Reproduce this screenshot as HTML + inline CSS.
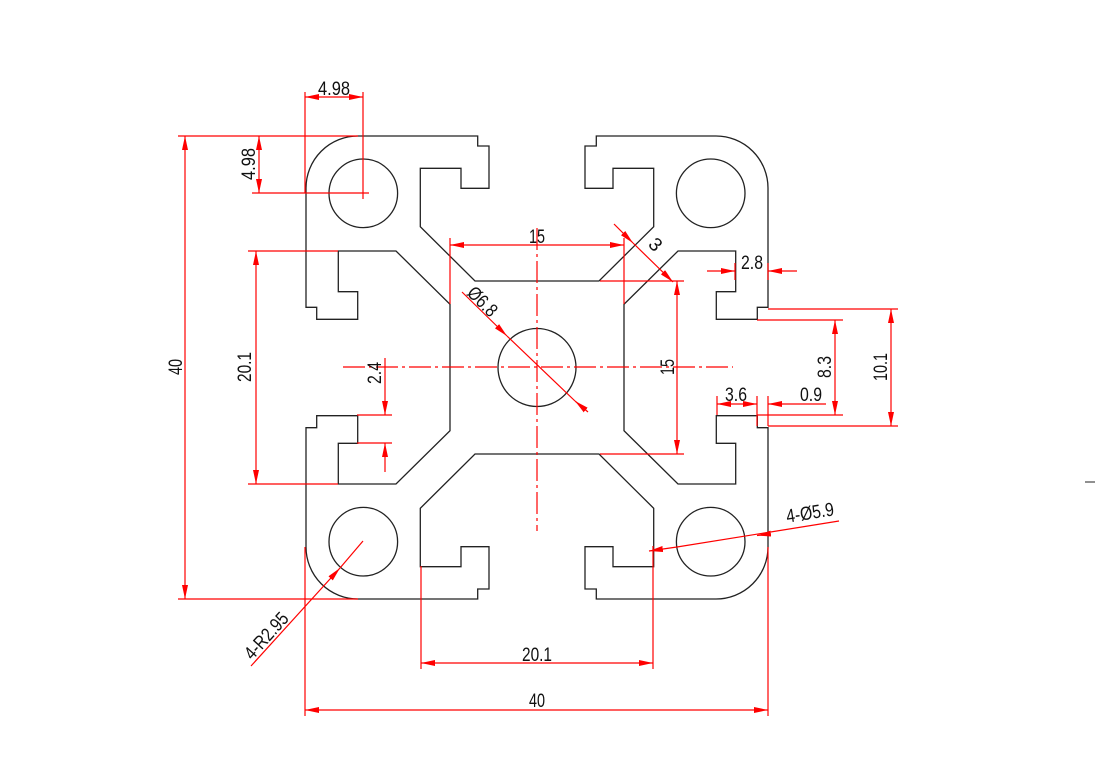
<!DOCTYPE html>
<html><head><meta charset="utf-8"><style>
html,body{margin:0;padding:0;background:#fff;}
svg{display:block;}
text{font-family:"Liberation Sans",sans-serif;font-size:19px;fill:#111;}
</style></head><body>
<svg width="1095" height="779" viewBox="0 0 1095 779" xmlns="http://www.w3.org/2000/svg">
<defs>
<marker id="a" viewBox="0 0 14 6" refX="14" refY="3" markerWidth="14" markerHeight="6" markerUnits="userSpaceOnUse" orient="auto-start-reverse">
<path d="M0,0 L14,3 L0,6 z" fill="#f00"/></marker>
<path id="q" d="M0,-86.5 L-62,-86.5 L-116.7,-140.8 L-116.7,-199.2 L-76,-199.2 L-76,-179.2 L-48,-179.2 L-48,-221.5 L-59.3,-221.5 L-59.3,-231.5 L-179,-231.5 A52,52 0 0 0 -231,-179.5 L-231,-60.2 L-220.3,-60.2 L-220.3,-48.2 L-179.3,-48.2 L-179.3,-75.8 L-198.7,-75.8 L-198.7,-116.5 L-141,-116.5 L-87,-63.2 L-87,0" fill="none" stroke="#222" stroke-width="1.3"/>
<circle id="h" cx="-173.7" cy="-174.2" r="34.3" fill="none" stroke="#222" stroke-width="1.3"/>
</defs>
<g transform="translate(537,367.5)">
<use href="#q"/><use href="#q" transform="scale(-1,1)"/><use href="#q" transform="scale(1,-1)"/><use href="#q" transform="scale(-1,-1)"/>
<use href="#h"/><use href="#h" transform="scale(-1,1)"/><use href="#h" transform="scale(1,-1)"/><use href="#h" transform="scale(-1,-1)"/>
<circle cx="0" cy="0" r="39" fill="none" stroke="#222" stroke-width="1.3"/>
</g>
<g stroke="#f00" stroke-width="1.2" fill="none">
<line x1="343" y1="367" x2="733" y2="367" stroke-dasharray="22,4,3,4"/>
<line x1="537" y1="228" x2="537" y2="531" stroke-dasharray="22,4,3,4"/>
<line x1="305" y1="92" x2="305" y2="193"/>
<line x1="305" y1="547" x2="305" y2="716"/>
<line x1="363" y1="92" x2="363" y2="199"/>
<line x1="305" y1="97" x2="363" y2="97" marker-start="url(#a)" marker-end="url(#a)"/>
<line x1="178" y1="136" x2="358" y2="136"/>
<line x1="252" y1="193" x2="369" y2="193"/>
<line x1="259" y1="136" x2="259" y2="193" marker-start="url(#a)" marker-end="url(#a)"/>
<line x1="178" y1="599" x2="358" y2="599"/>
<line x1="185" y1="136" x2="185" y2="599" marker-start="url(#a)" marker-end="url(#a)"/>
<line x1="248" y1="251" x2="338" y2="251"/>
<line x1="248" y1="484" x2="338" y2="484"/>
<line x1="256" y1="251" x2="256" y2="484" marker-start="url(#a)" marker-end="url(#a)"/>
<line x1="357" y1="415" x2="392" y2="415"/>
<line x1="357" y1="443" x2="392" y2="443"/>
<line x1="385" y1="358" x2="385" y2="415" marker-end="url(#a)"/>
<line x1="385" y1="472" x2="385" y2="443" marker-end="url(#a)"/>
<line x1="450" y1="238" x2="450" y2="304"/>
<line x1="624" y1="238" x2="624" y2="304"/>
<line x1="450" y1="245" x2="624" y2="245" marker-start="url(#a)" marker-end="url(#a)"/>
<line x1="614" y1="224" x2="633" y2="243" marker-end="url(#a)"/>
<line x1="633" y1="243" x2="673" y2="282" marker-end="url(#a)"/>
<line x1="600" y1="281" x2="684" y2="281"/>
<line x1="600" y1="454" x2="684" y2="454"/>
<line x1="677" y1="281" x2="677" y2="454" marker-start="url(#a)" marker-end="url(#a)"/>
<line x1="707" y1="271" x2="735" y2="271" marker-end="url(#a)"/>
<line x1="797" y1="271" x2="768" y2="271" marker-end="url(#a)"/>
<line x1="735" y1="263" x2="735" y2="280"/>
<line x1="768" y1="263" x2="768" y2="280"/>
<line x1="768" y1="309" x2="898" y2="309"/>
<line x1="768" y1="426" x2="898" y2="426"/>
<line x1="891" y1="309" x2="891" y2="426" marker-start="url(#a)" marker-end="url(#a)"/>
<line x1="757" y1="320" x2="843" y2="320"/>
<line x1="757" y1="415" x2="843" y2="415"/>
<line x1="835" y1="320" x2="835" y2="415" marker-start="url(#a)" marker-end="url(#a)"/>
<line x1="717" y1="396" x2="717" y2="415"/>
<line x1="757" y1="396" x2="757" y2="426"/>
<line x1="768" y1="396" x2="768" y2="426"/>
<line x1="717" y1="404" x2="757" y2="404" marker-start="url(#a)" marker-end="url(#a)"/>
<line x1="826" y1="404" x2="768" y2="404" marker-end="url(#a)"/>
<line x1="421" y1="566" x2="421" y2="669"/>
<line x1="653" y1="546" x2="653" y2="669"/>
<line x1="421" y1="663" x2="653" y2="663" marker-start="url(#a)" marker-end="url(#a)"/>
<line x1="768" y1="547" x2="768" y2="716"/>
<line x1="305" y1="710" x2="768" y2="710" marker-start="url(#a)" marker-end="url(#a)"/>
<line x1="251" y1="666" x2="340" y2="568" marker-end="url(#a)"/>
<line x1="340" y1="568" x2="363" y2="541"/>
<line x1="649" y1="551" x2="677" y2="547" marker-start="url(#a)"/>
<line x1="677" y1="547" x2="839" y2="521"/>
<line x1="768" y1="534" x2="757" y2="535.5" marker-end="url(#a)"/>
<line x1="462" y1="292" x2="507" y2="336" marker-end="url(#a)"/>
<line x1="507" y1="336" x2="575" y2="401"/>
<line x1="588" y1="412" x2="575" y2="401" marker-end="url(#a)"/>
</g>
<line x1="1085" y1="482" x2="1095" y2="482" stroke="#222" stroke-width="1"/>
<g text-anchor="middle">
<text x="334" y="95" textLength="32" lengthAdjust="spacingAndGlyphs">4.98</text>
<text transform="translate(255,164) rotate(-90)" textLength="32" lengthAdjust="spacingAndGlyphs">4.98</text>
<text transform="translate(182,367) rotate(-90)" textLength="16" lengthAdjust="spacingAndGlyphs">40</text>
<text transform="translate(251,367) rotate(-90)" textLength="30" lengthAdjust="spacingAndGlyphs">20.1</text>
<text transform="translate(381,373) rotate(-90)" textLength="22" lengthAdjust="spacingAndGlyphs">2.4</text>
<text x="537" y="243" textLength="16" lengthAdjust="spacingAndGlyphs">15</text>
<text transform="translate(651,249) rotate(45)">3</text>
<text transform="translate(674,367) rotate(-90)" textLength="16" lengthAdjust="spacingAndGlyphs">15</text>
<text x="752" y="269" textLength="22" lengthAdjust="spacingAndGlyphs">2.8</text>
<text transform="translate(887,367) rotate(-90)" textLength="28" lengthAdjust="spacingAndGlyphs">10.1</text>
<text transform="translate(831,367) rotate(-90)" textLength="22" lengthAdjust="spacingAndGlyphs">8.3</text>
<text x="736" y="401" textLength="22" lengthAdjust="spacingAndGlyphs">3.6</text>
<text x="811" y="401" textLength="22" lengthAdjust="spacingAndGlyphs">0.9</text>
<text x="537" y="661" textLength="30" lengthAdjust="spacingAndGlyphs">20.1</text>
<text x="537" y="707" textLength="16" lengthAdjust="spacingAndGlyphs">40</text>
<text transform="translate(271,640) rotate(-48)" textLength="56" lengthAdjust="spacingAndGlyphs">4-R2.95</text>
<text transform="translate(811,519) rotate(-9)" textLength="48" lengthAdjust="spacingAndGlyphs">4-Ø5.9</text>
<text transform="translate(478,306) rotate(45)" textLength="34" lengthAdjust="spacingAndGlyphs">Ø6.8</text>
</g>
</svg>
</body></html>
